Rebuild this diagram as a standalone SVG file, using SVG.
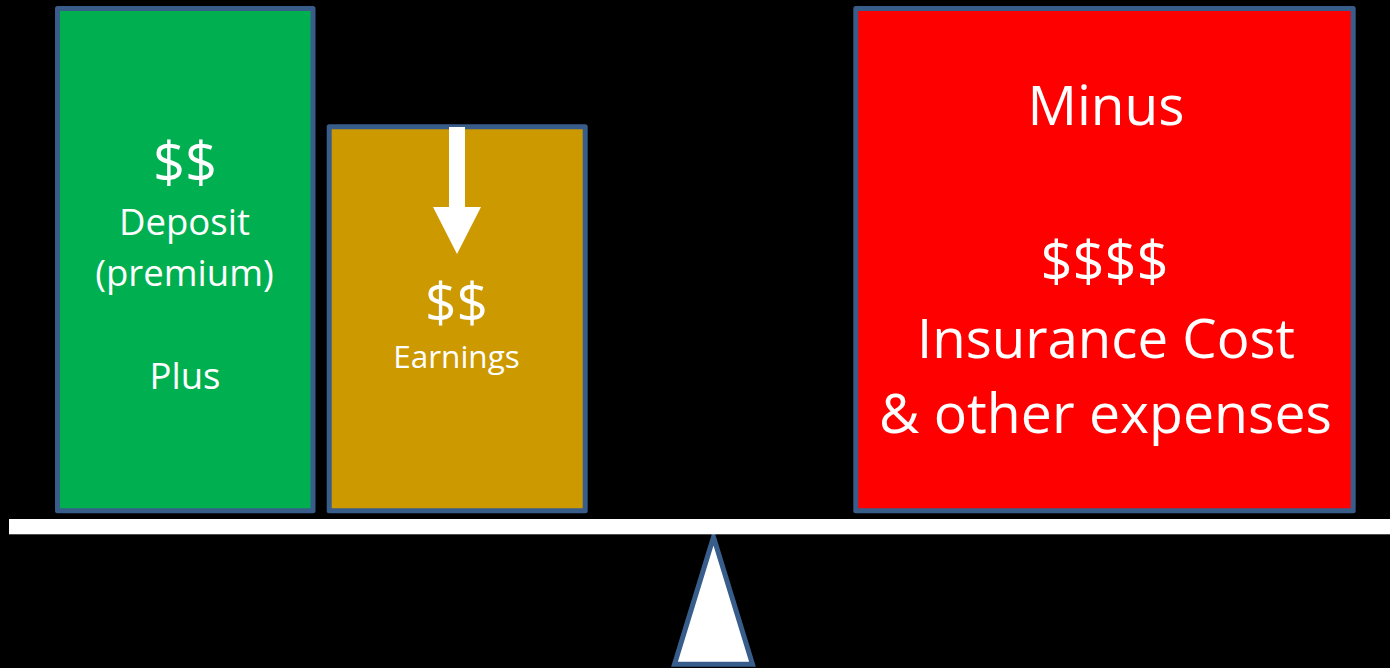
<svg xmlns="http://www.w3.org/2000/svg" width="1390" height="668" viewBox="0 0 1390 668">
  <style>
    .box { stroke: #385D8A; stroke-width: 5; stroke-linejoin: round; }
    .lbl { font-family: "Open Sans", "Noto Sans", "Liberation Sans", sans-serif; fill: #FFFFFF; text-anchor: middle; }
  </style>
  <rect x="0" y="0" width="1390" height="668" fill="#000000"/>

  <!-- fulcrum, drawn under the beam -->
  <g id="fulcrum">
    <polygon points="713.5,537 752.5,664.2 674.5,664.2" fill="#FFFFFF" stroke="#385D8A" stroke-width="5"/>
  </g>

  <!-- balance beam -->
  <g id="beam">
    <rect x="9" y="519" width="1381" height="15.3" fill="#FFFFFF"/>
  </g>

  <!-- left pan: deposit -->
  <g id="deposit">
    <rect class="box" x="57.5" y="8.5" width="255.5" height="502.3" fill="#00B050"/>
    <text class="lbl" x="185" y="183" font-size="56">$$</text>
    <text class="lbl" x="184.5" y="235" font-size="36.5">Deposit</text>
    <text class="lbl" x="184.5" y="286" font-size="36.5">(premium)</text>
    <text class="lbl" x="185" y="389" font-size="36.5">Plus</text>
  </g>

  <!-- left pan: earnings -->
  <g id="earnings">
    <rect class="box" x="329.2" y="126.8" width="256" height="384" fill="#CC9900"/>
    <text class="lbl" x="456.5" y="322" font-size="55">$$</text>
    <text class="lbl" x="456.5" y="368" font-size="31.5">Earnings</text>
  </g>

  <!-- right pan: costs -->
  <g id="costs">
    <rect class="box" x="855.8" y="8.5" width="497.4" height="502.3" fill="#FF0000"/>
    <text class="lbl" x="1106" y="125" font-size="55">Minus</text>
    <text class="lbl" x="1104.5" y="282" font-size="56">$$$$</text>
    <text class="lbl" x="1106" y="358" font-size="54.6">Insurance Cost</text>
    <text class="lbl" x="1105.5" y="433" font-size="55.4">&amp; other expenses</text>
  </g>

  <g id="connectors">
    <!-- downward arrow into the earnings pan -->
    <polygon points="449,127 465,127 465,207 481,207 457,254 433,207 449,207" fill="#FFFFFF"/>
  </g>
</svg>
